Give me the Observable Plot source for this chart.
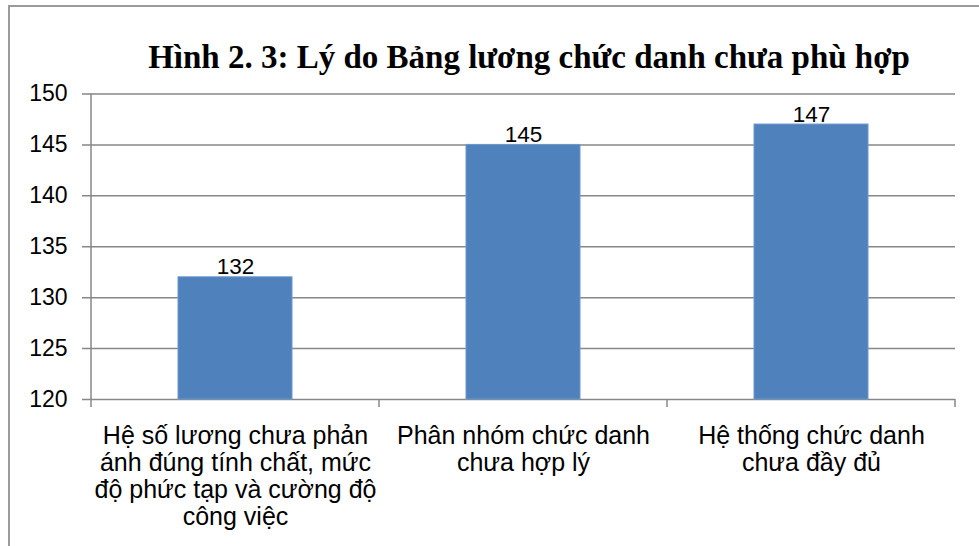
<!DOCTYPE html>
<html><head><meta charset="utf-8">
<script src="https://cdn.jsdelivr.net/npm/d3@7"></script>
<script src="https://cdn.jsdelivr.net/npm/@observablehq/plot@0.6"></script>
<style>
html,body{margin:0;padding:0;background:#fff;}
#wrap{position:relative;width:979px;height:546px;overflow:hidden;background:#fff;}
#border{position:absolute;left:8px;top:5px;width:1100px;height:1100px;border-left:2px solid #9a9a9a;border-top:2px solid #9a9a9a;}
#title{position:absolute;left:79px;top:41px;width:900px;text-align:center;font:bold 33px "Liberation Serif","Times New Roman",serif;line-height:33px;color:#000;white-space:nowrap;}
#chart{position:absolute;left:0;top:80px;}
</style>
</head><body>
<div id="wrap">
  <div id="border"></div>
  <div id="title">Hình 2. 3: Lý do Bảng lương chức danh chưa phù hợp</div>
  <div id="chart"></div>
</div>
<script>
const categories = [
  "Hệ số lương chưa phản ánh đúng tính chất, mức độ phức tạp và cường độ công việc",
  "Phân nhóm chức danh chưa hợp lý",
  "Hệ thống chức danh chưa đầy đủ"
];
const values = [132, 145, 147];
const tickLabels = [
  "Hệ số lương chưa phản\nánh đúng tính chất, mức\nđộ phức tạp và cường độ\ncông việc",
  "Phân nhóm chức danh\nchưa hợp lý",
  "Hệ thống chức danh\nchưa đầy đủ"
];
const yTicks = [120, 125, 130, 135, 140, 145, 150];

const data = categories.map((c, i) => ({category: c, value: values[i]}));
const gridColor = "#878787";
const font = "Liberation Sans, Arial, sans-serif";

function boundaryTicks(index, scales, values, dims) {
  const g = d3.create("svg:g").attr("stroke", gridColor).attr("stroke-width", 1.5);
  const yb = dims.height - dims.marginBottom;
  const step = (dims.width - dims.marginLeft - dims.marginRight) / categories.length;
  const xs = categories.map(c => scales.x(c));
  xs.push(xs[xs.length - 1] + step);
  g.append("line").attr("x1", xs[0]).attr("x2", xs[0]).attr("y1", dims.marginTop).attr("y2", yb + 8);
  xs.slice(1).forEach(x => g.append("line").attr("x1", x).attr("x2", x).attr("y1", yb).attr("y2", yb + 8));
  return g.node();
}

const chart = Plot.plot({
  width: 979,
  height: 466,
  marginLeft: 91,
  marginRight: 24,
  marginTop: 13.5,
  marginBottom: 147,
  style: {fontFamily: font, color: "#000", background: "transparent"},
  x: {domain: categories, padding: 0, axis: null},
  y: {domain: [120, 150], axis: null},
  marks: [
    Plot.ruleY(yTicks, {y: d => d, stroke: gridColor, strokeWidth: 1.5, insetLeft: -9}),
    Plot.barY(data, {x: "category", y1: () => yTicks[0], y2: "value", fill: "#4f81bd", stroke: "#6e98cb", strokeWidth: 1, insetLeft: 87, insetRight: 87}),
    boundaryTicks,
    Plot.text(data, {x: "category", y: "value", text: d => String(d.value), lineAnchor: "bottom", dy: -3, fontSize: 22.5, fill: "#000"}),
    Plot.axisY({ticks: yTicks, tickSize: 0, tickPadding: 24, fontSize: 23, label: null, tickFormat: d => String(d)}),
    Plot.axisX({tickSize: 0, tickPadding: 25, fontSize: 25, lineHeight: 1.08, label: null, tickFormat: d => tickLabels[categories.indexOf(d)]})
  ]
});
document.getElementById("chart").appendChild(chart);
</script>
</body></html>
